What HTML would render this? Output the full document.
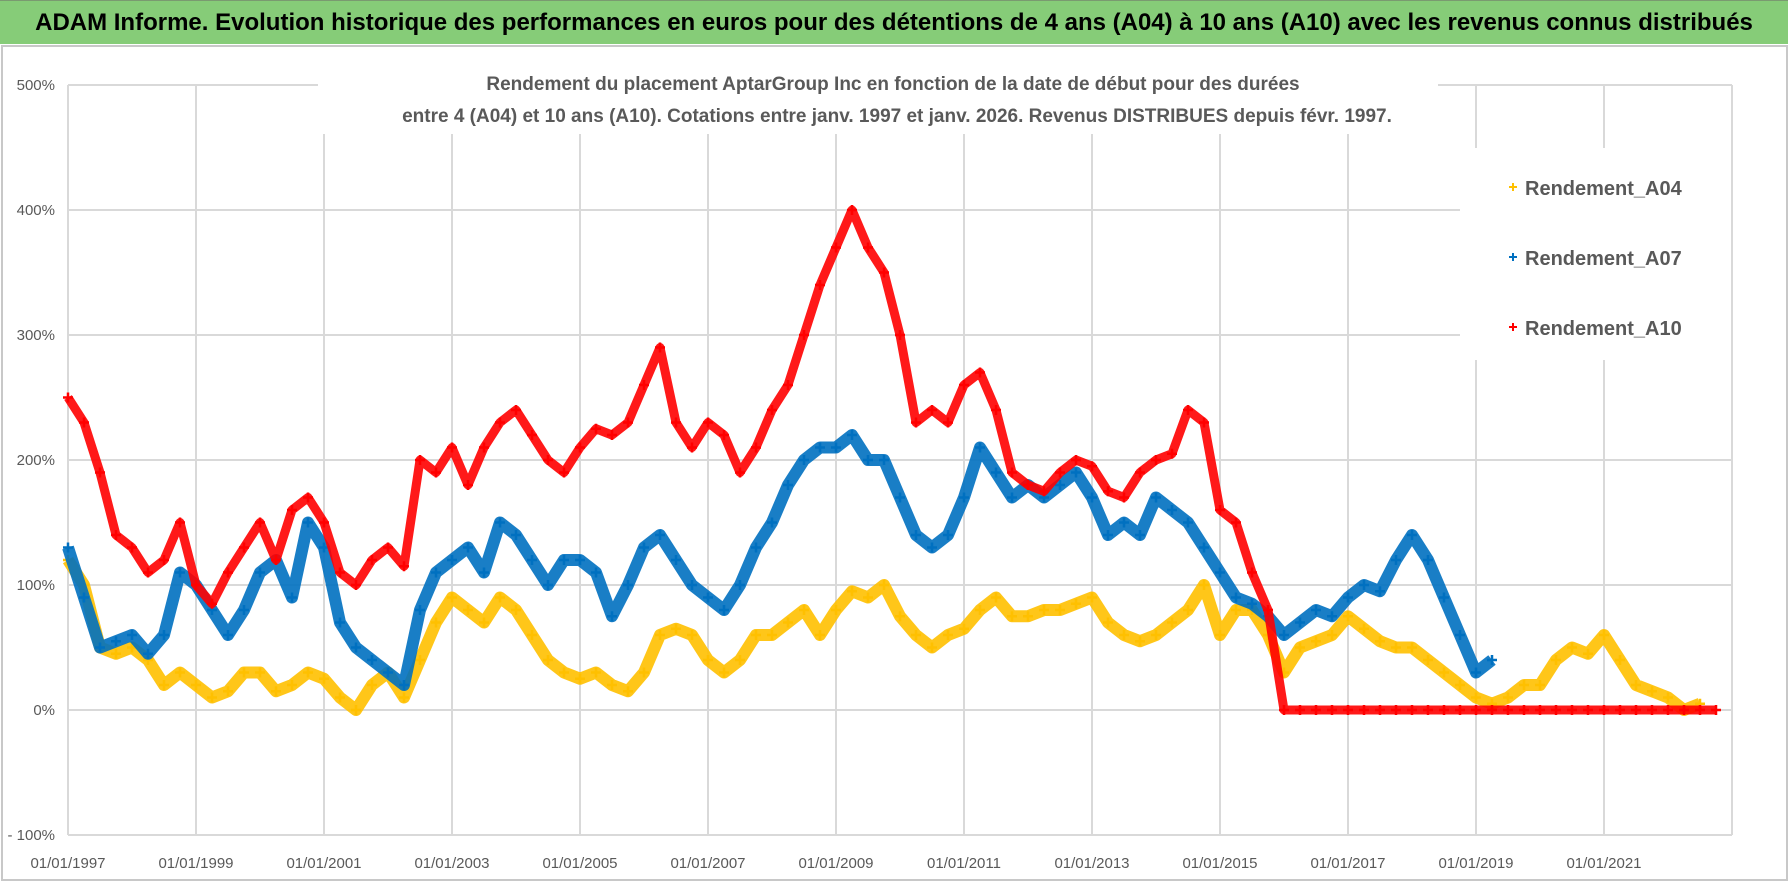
<!DOCTYPE html>
<html><head><meta charset="utf-8"><style>
html,body{margin:0;padding:0;background:#fff;}
body{width:1790px;height:886px;overflow:hidden;position:relative;font-family:"Liberation Sans",sans-serif;}
#banner{position:absolute;left:0;top:0;width:1788px;height:43px;background:#86cc78;border-top:1px solid #7a9a70;font-weight:bold;font-size:24px;line-height:43px;text-align:center;color:#000;white-space:nowrap;}
#frame{position:absolute;left:1px;top:45px;width:1783px;height:832px;border:2px solid #c8c8c8;}
</style></head><body>
<div id="banner">ADAM Informe. Evolution historique des performances en euros pour des détentions de 4 ans (A04) à 10 ans (A10) avec les revenus connus distribués</div>
<div id="frame"></div>
<svg id="chart" width="1790" height="886" style="position:absolute;left:0;top:0" xmlns="http://www.w3.org/2000/svg"></svg>
<script>
const yTicks=[-100,0,100,200,300,400,500];
const xTickYears=[1997,1999,2001,2003,2005,2007,2009,2011,2013,2015,2017,2019,2021];
const xTickLabels=["01/01/1997","01/01/1999","01/01/2001","01/01/2003","01/01/2005","01/01/2007","01/01/2009","01/01/2011","01/01/2013","01/01/2015","01/01/2017","01/01/2019","01/01/2021"];
const seriesNames=["Rendement_A04","Rendement_A07","Rendement_A10"];
const startYear=1997;
const a04=[120,100,50,45, 50,40,20,30, 20,10,15,30, 30,15,20,30, 25,10,0,20, 30,10,40,70, 90,80,70,90, 80,60,40,30, 25,30,20,15, 30,60,65,60, 40,30,40,60, 60,70,80,60, 80,95,90,100, 75,60,50,60, 65,80,90,75, 75,80,80,85, 90,70,60,55, 60,70,80,100, 60,80,80,60, 30,50,55,60, 75,65,55,50, 50,40,30,20, 10,5,10,20, 20,40,50,45, 60,40,20,15, 10,0,5];
const a07=[130,90,50,55, 60,45,60,110, 100,80,60,80, 110,120,90,150, 130,70,50,40, 30,20,80,110, 120,130,110,150, 140,120,100,120, 120,110,75,100, 130,140,120,100, 90,80,100,130, 150,180,200,210, 210,220,200,200, 170,140,130,140, 170,210,190,170, 180,170,180,190, 170,140,150,140, 170,160,150,130, 110,90,85,75, 60,70,80,75, 90,100,95,120, 140,120,90,60, 30,40];
const a10=[250,230,190,140, 130,110,120,150, 100,85,110,130, 150,120,160,170, 150,110,100,120, 130,115,200,190, 210,180,210,230, 240,220,200,190, 210,225,220,230, 260,290,230,210, 230,220,190,210, 240,260,300,340, 370,400,370,350, 300,230,240,230, 260,270,240,190, 180,175,190,200, 195,175,170,190, 200,205,240,230, 160,150,110,80, 0,0,0,0, 0,0,0,0, 0,0,0,0, 0,0,0,0, 0,0,0,0, 0,0,0,0, 0,0,0,0];
const colors=["#ffc000","#0070c0","#ff0000"];
const NS="http://www.w3.org/2000/svg";
const svg=document.getElementById('chart');
const X0=68,YR=64,Y0=710,YS=1.25,XR=1732;
function xs(yr){return X0+(yr-1997)*YR;}
function ys(v){return Y0-v*YS;}
function mk(tag,at,parent){const e=document.createElementNS(NS,tag);for(const k in at)e.setAttribute(k,at[k]);(parent||svg).appendChild(e);return e;}
yTicks.forEach(t=>{
  const l=mk('line',{x1:X0,x2:XR,y1:ys(t),y2:ys(t),stroke:'#d9d9d9','stroke-width':2});
  
  
  const tx=mk('text',{x:55,y:ys(t)+5,'text-anchor':'end','font-size':15,fill:'#595959','font-family':'Liberation Sans, sans-serif'});
  tx.textContent=(t<0?'- '+(-t):t)+'%';
  
  
});
xTickYears.forEach((yr,i)=>{
  const l=mk('line',{x1:xs(yr),x2:xs(yr),y1:ys(500),y2:ys(-100),stroke:'#d9d9d9','stroke-width':2});
  
  
  const tx=mk('text',{x:xs(yr),y:868,'text-anchor':'middle','font-size':15,fill:'#595959','font-family':'Liberation Sans, sans-serif'});
  tx.textContent=xTickLabels[i];
  
  
});
mk('line',{x1:XR,x2:XR,y1:ys(500),y2:ys(-100),stroke:'#d9d9d9','stroke-width':2});
[a04,a07,a10].forEach((arr,si)=>{
  const g=mk('g',{});
  
  
  let pts=arr.map((v,i)=>[xs(startYear+i*0.25),ys(v)]);
  const pl=mk('polyline',{points:pts.map(p=>p.join(',')).join(' '),fill:'none',stroke:colors[si],'stroke-width':(si==2?9:12),'stroke-linejoin':'round',opacity:0.9},g);
  
  
  pts.forEach(p=>{
    const m=mk('path',{d:`M${p[0]-5},${p[1]}h10M${p[0]},${p[1]-5}v10`,stroke:colors[si],'stroke-width':2.5},g);
    
    
  });
});
mk('rect',{x:318,y:64,width:1120,height:70,fill:'#fff'});
const t1=mk('text',{x:893,y:90,'text-anchor':'middle','font-size':19,'font-weight':'bold',fill:'#595959','font-family':'Liberation Sans, sans-serif'});
t1.textContent='Rendement du placement AptarGroup Inc en fonction de la date de début pour des durées';


const t2=mk('text',{x:897,y:122,'text-anchor':'middle','font-size':19,'font-weight':'bold',fill:'#595959','font-family':'Liberation Sans, sans-serif'});
t2.textContent='entre 4 (A04) et 10 ans (A10). Cotations entre janv. 1997 et janv. 2026. Revenus DISTRIBUES depuis févr. 1997.';


mk('rect',{x:1460,y:148,width:271,height:212,fill:'#fff'});
seriesNames.forEach((n,i)=>{
  const y=187+i*70;
  const g=mk('g',{});
  
  
  mk('path',{d:`M1509,${y}h8M1513,${y-4}v8`,stroke:colors[i],'stroke-width':2},g);
  const t=mk('text',{x:1525,y:y+8,'font-size':20,'font-weight':'bold',fill:'#595959','font-family':'Liberation Sans, sans-serif'},g);
  t.textContent=n;
});
</script>
</body></html>
